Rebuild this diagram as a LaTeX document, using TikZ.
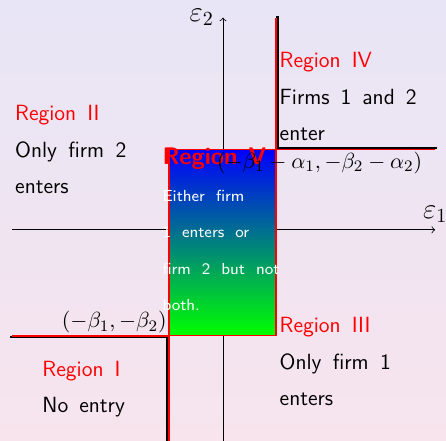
\documentclass[tikz,border=0pt]{standalone}
\usepackage{tikz}
\usetikzlibrary{arrows,positioning}

\definecolor{bgtop}{RGB}{232,229,246}
\definecolor{bgbottom}{RGB}{247,228,237}

\begin{document}
\begin{tikzpicture}[
    region/.style={anchor=base west, inner sep=0pt, text width=2cm,
        font=\sffamily\fontsize{11}{18.25}\selectfont,
        execute at begin node={\spaceskip=5.5pt plus 3pt minus 0.8pt\relax}},
    axis/.style={->, thin},
    edge/.style={line width=1.2pt},
    rededge/.style={red, line width=0.9pt},
    point/.style={inner sep=1pt, font=\fontsize{11}{13}\selectfont}
]

% Background
\path[use as bounding box, top color=bgtop, bottom color=bgbottom] (-3.92,-3.71) rectangle (3.92,4.04);

% Corners and axis ends
\coordinate (A) at (-0.95,-1.86);
\coordinate (B) at (0.93,1.41);
\coordinate (xmin) at (-3.71,0);
\coordinate (xmax) at (3.73,0);
\coordinate (ymin) at (0,-3.71);
\coordinate (ymax) at (0,3.73);

% Axes
\draw[axis] (xmin) -- (xmax) node[above, font=\Large] (e1) {$\varepsilon_1$};
\draw[axis] (ymin) -- (ymax) node[left, font=\Large, xshift=-1pt] (e2) {$\varepsilon_2$};

% Region V box
\path[draw=red, thick, top color=blue, bottom color=green] (A) rectangle (B);

% Boundaries
\draw[edge, transform canvas={shift={(-0.8pt,-0.8pt)}}] (A -| xmin) -- (A) -- (A |- ymin);
\draw[rededge] (A -| xmin) -- (A) -- (A |- ymin);
\draw[edge, transform canvas={shift={(0.8pt,0.8pt)}}] (B -| xmax) -- (B) -- (B |- ymax);
\draw[rededge] (B -| xmax) -- (B) -- (B |- ymax);

% Regions
\node[region] (r2) at (-3.66,1.92) {\textcolor{red}{Region II}\\ Only firm 2 enters};
\node[region, text width=2.41cm] (r4) at (0.99,2.85) {\textcolor{red}{Region IV}\\ Firms 1 and 2 enter};
\node[region] (r3) at (0.99,-1.81) {\textcolor{red}{Region III}\\ Only firm 1 enters};
\node[region] (r1) at (-3.18,-2.57) {\textcolor{red}{Region I}\\ No entry};
\node[region, text width=2.4cm] (r5) at (-1.07,1.14) {\textcolor{red}{\bfseries\fontsize{12}{18.25}\selectfont Region V}\\
    \color{white}\fontsize{8}{18.25}\selectfont Either firm\\ 1 enters or\\ firm 2 but not\\ both.};

% Points
\node[point, anchor=south east] (p1) at (A) {$(-\beta_1,-\beta_2)$};
\node[point, anchor=north] (p2) at (1.70,1.41) {$(-\beta_1-\alpha_1,-\beta_2-\alpha_2)$};

\end{tikzpicture}
\end{document}
